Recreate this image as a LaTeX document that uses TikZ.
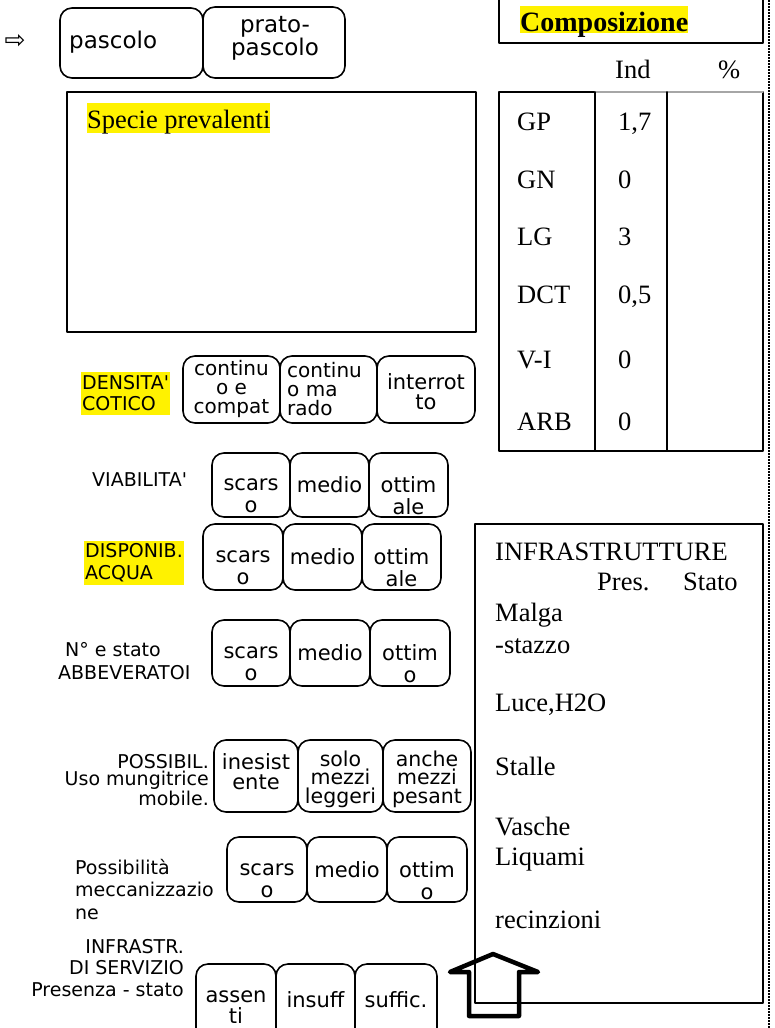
\documentclass[tikz,border=0pt]{standalone}
\usepackage{fontspec}
\setmainfont{Liberation Serif}
\setsansfont{DejaVu Sans}
\usepackage[usenames]{xcolor}
\usepackage{tikz}

\begin{document}
\begin{tikzpicture}[line cap=round,line join=round,x=1pt,y=-1pt,
  optbox/.style={draw,fill=white,line width=1.6pt,rounded corners=12pt,inner sep=0pt},
  opttext/.style={font=\sffamily\fontsize{21}{22}\selectfont,align=center,inner sep=0pt},
  rowlabel/.style={font=\sffamily\fontsize{19}{21}\selectfont,inner sep=0pt},
  formtext/.style={font=\fontsize{26.5}{30}\selectfont,inner sep=0pt,anchor=west,text height=17.5pt,text depth=0pt},
  marker/.style={fill=yellow}]
\useasboundingbox (0,0) rectangle (774,1028);
% tipo di superficie
\node[font=\sffamily\fontsize{25}{25}\selectfont,inner sep=0pt] (ptr) at (15,41) {⇨};
\node[optbox,minimum width=143,minimum height=70] (pasc) at (131.5,43) {};
\node[optbox,minimum width=142,minimum height=71] (prato) at (274,42.5) {};
\node[opttext,font=\sffamily\fontsize{23}{20}\selectfont,anchor=west] (pasct) at (69,42) {pascolo};
\node[opttext,font=\sffamily\fontsize{23}{20}\selectfont] (pratot) at (275,38) {prato-\\pascolo};
% composizione
\draw[line width=1.6pt] (499,-5) -- (499,43) -- (763,43) -- (763,-5);
\node[formtext,font=\bfseries\fontsize{28}{30}\selectfont,marker,anchor=base west,text height=25pt,text depth=2pt] (comp) at (520,31) {Composizione};
\node[formtext] (ind) at (615,70) {Ind};
\node[formtext] (perc) at (718,70) {\%};
\draw[line width=1.6pt] (595,92) -- (499,92) -- (499,451) -- (763,451) -- (763,92);
\draw[black!35,line width=1.2pt] (595,92) -- (763,92);
\draw[line width=1.6pt] (595,92) -- (595,451);
\draw[line width=1.6pt] (667,92) -- (667,451);
\node[formtext] (gp) at (517,122) {GP};   \node[formtext] (gpv) at (618,122) {1,7};
\node[formtext] (gn) at (517,180) {GN};   \node[formtext] (gnv) at (618,180) {0};
\node[formtext] (lg) at (517,237) {LG};   \node[formtext] (lgv) at (618,237) {3};
\node[formtext] (dct) at (517,295) {DCT};  \node[formtext] (dctv) at (618,295) {0,5};
\node[formtext] (vi) at (517,360) {V-I};  \node[formtext] (viv) at (618,360) {0};
\node[formtext] (arb) at (517,422) {ARB};  \node[formtext] (arbv) at (618,422) {0};
% specie prevalenti
\draw[line width=1.6pt] (67,92) rectangle (476,332);
\node[formtext,marker,anchor=base west,text height=25pt,text depth=5pt] (spec) at (87,128) {Specie prevalenti};
% densita' cotico
\node[rowlabel,marker,align=left,anchor=west,inner xsep=1pt,inner ysep=4pt] (dens) at (81,393.5) {DENSITA\textquotesingle\\COTICO};
\node[optbox,minimum width=97,minimum height=67] (dens1) at (231.5,389.5) {};
\node[optbox,minimum width=97,minimum height=67] (dens2) at (328.5,389.5) {};
\node[optbox,minimum width=98,minimum height=67] (dens3) at (426,389.5) {};
\node[opttext,font=\sffamily\fontsize{20}{19}\selectfont] (dens1t) at (231.5,389) {continu\\o e\\compat};
\node[opttext,font=\sffamily\fontsize{20}{19}\selectfont,align=left,anchor=west] (dens2t) at (287,389) {continu\\o ma\\rado};
\node[opttext,font=\sffamily\fontsize{21}{20}\selectfont] (dens3t) at (426,392) {interrot\\to};
% viabilita'
\node[rowlabel,anchor=west] (viab) at (92,480) {VIABILITA\textquotesingle};
\node[optbox,minimum width=78,minimum height=64] (via1) at (251,485) {};
\node[optbox,minimum width=79,minimum height=64] (via2) at (329.5,485) {};
\node[optbox,minimum width=79,minimum height=64] (via3) at (408.5,485) {};
\node[opttext] (via1t) at (251,496) {scars\\o};
\node[opttext] (via2t) at (329.5,485) {medio};
\node[opttext] (via3t) at (408.5,496) {ottim\\ale};
% acqua
\node[rowlabel,marker,align=left,anchor=west,inner xsep=1pt,inner ysep=3pt,font=\sffamily\fontsize{19}{22}\selectfont] (acq) at (84,563) {DISPONIB.\\ACQUA};
\node[optbox,minimum width=80,minimum height=66] (acq1) at (243,557) {};
\node[optbox,minimum width=79,minimum height=66] (acq2) at (322.5,557) {};
\node[optbox,minimum width=79,minimum height=66] (acq3) at (401.5,557) {};
\node[opttext] (acq1t) at (243,568) {scars\\o};
\node[opttext] (acq2t) at (322.5,557) {medio};
\node[opttext] (acq3t) at (401.5,568) {ottim\\ale};
% abbeveratoi
\node[rowlabel,align=left,anchor=west,font=\sffamily\fontsize{19}{23}\selectfont] (abb) at (58,661.5) {\hspace*{7pt}N° e stato\\ABBEVERATOI};
\node[optbox,minimum width=78,minimum height=66] (abb1) at (251,653) {};
\node[optbox,minimum width=80,minimum height=66] (abb2) at (330,653) {};
\node[optbox,minimum width=80,minimum height=66] (abb3) at (410,653) {};
\node[opttext] (abb1t) at (251,664) {scars\\o};
\node[opttext] (abb2t) at (330,653) {medio};
\node[opttext] (abb3t) at (410,664) {ottim\\o};
% mungitrice
\node[rowlabel,align=right,anchor=east,font=\sffamily\fontsize{19}{17.5}\selectfont] (mung) at (209,780) {POSSIBIL.\\Uso mungitrice\\mobile.};
\node[optbox,minimum width=84,minimum height=72] (mung1) at (256,776) {};
\node[optbox,minimum width=85,minimum height=72] (mung2) at (340.5,776) {};
\node[optbox,minimum width=88,minimum height=72] (mung3) at (427,776) {};
\node[opttext,font=\sffamily\fontsize{21}{20}\selectfont] (mung1t) at (256,772) {inesist\\ente};
\node[opttext,font=\sffamily\fontsize{20.5}{18.5}\selectfont] (mung2t) at (340.5,779) {solo\\mezzi\\leggeri};
\node[opttext,font=\sffamily\fontsize{20.5}{18.5}\selectfont] (mung3t) at (427,779) {anche\\mezzi\\pesant};
% meccanizzazione
\node[rowlabel,align=left,anchor=west,font=\sffamily\fontsize{19}{22.5}\selectfont] (mecc) at (75,889.5) {Possibilità\\meccanizzazio\\ne};
\node[optbox,minimum width=80,minimum height=65] (mecc1) at (267,869.5) {};
\node[optbox,minimum width=80,minimum height=65] (mecc2) at (347,869.5) {};
\node[optbox,minimum width=80,minimum height=65] (mecc3) at (427,869.5) {};
\node[opttext] (mecc1t) at (267,881) {scars\\o};
\node[opttext] (mecc2t) at (347,870) {medio};
\node[opttext] (mecc3t) at (427,881) {ottim\\o};
% infrastrutture di servizio
\node[rowlabel,align=right,anchor=east,font=\sffamily\fontsize{19}{21.5}\selectfont] (serv) at (184,968) {INFRASTR.\\DI SERVIZIO\\Presenza - stato};
\node[optbox,minimum width=80,minimum height=80] (serv1) at (236,1004) {};
\node[optbox,minimum width=79,minimum height=80] (serv2) at (315.5,1004) {};
\node[optbox,minimum width=82,minimum height=80] (serv3) at (396,1004) {};
\node[opttext,font=\sffamily\fontsize{21}{21}\selectfont] (serv1t) at (236,1007) {assen\\ti};
\node[opttext] (serv2t) at (315.5,1000) {insuff};
\node[opttext] (serv3t) at (396,1000) {suffic.};
% infrastrutture
\draw[line width=1.4pt] (475,524) rectangle (763,1003);
\node[formtext] (infr) at (495,552) {INFRASTRUTTURE};
\node[formtext] (pres) at (597,582) {Pres.};
\node[formtext] (stato) at (683,582) {Stato};
\node[formtext] (malga) at (495,613) {Malga};
\node[formtext] (stazzo) at (495,645) {-stazzo};
\node[formtext] (luce) at (495,703) {Luce,H2O};
\node[formtext] (stalle) at (495,767) {Stalle};
\node[formtext] (vasche) at (495,827) {Vasche};
\node[formtext] (liq) at (495,857) {Liquami};
\node[formtext] (recin) at (495,920) {recinzioni};
\draw[line width=4.5pt] (469,1016) -- (469,972) -- (450,972) -- (493,954) -- (538,972) -- (519,972) -- (519,1016) -- cycle;
% bordo destro
\draw[line width=2.4pt,line cap=butt,dash pattern=on 1.8pt off 1.2pt] (769,0) -- (769,1028);
\end{tikzpicture}
\end{document}
